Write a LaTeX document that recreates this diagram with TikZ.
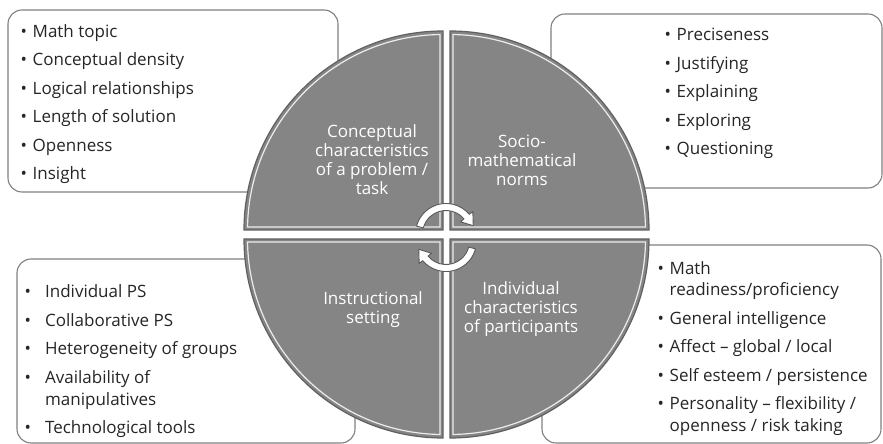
\documentclass[tikz,border=0pt]{standalone}
\usepackage{fontspec}
\setmainfont{Open Sans}
\newcommand{\bul}[1][12pt]{\makebox[#1][l]{\textbullet}}
\newcommand{\ind}[1][12pt]{\hspace*{#1}}

\begin{document}
\begin{tikzpicture}[x=1pt,y=1pt,
	listbox/.style={draw=black!50,line width=1.1pt,fill=white,rounded corners=14pt},
	quad/.style={fill=black!48,draw=black!62,line width=1.2pt},
	shine/.style={draw=white,line width=1.2pt,opacity=.85},
	itemlist/.style={anchor=base west,align=left,inner sep=0pt,text=black!85,font=\fontsize{17}{22}\selectfont},
	quadtext/.style={align=center,text=white,inner sep=0pt,font=\fontsize{17}{19}\selectfont},
	turn/.style={fill=white,draw=black!65,line width=.9pt,line join=round}]

\useasboundingbox[fill=white] (0,0) rectangle (883,444);

% boxes behind the disc
\draw[listbox] (8,252) rectangle (338,434);
\draw[listbox] (551,256) rectangle (882,430);
\draw[listbox] (17,1) rectangle (355,185);
\draw[listbox] (542,1) rectangle (881,199);

% the four quarters of the disc
\foreach \cx/\cy/\rot in {443/214/0,450/214/-90,450/205/180,443/205/90}{
	\begin{scope}[shift={(\cx,\cy)},rotate=\rot]
		\path[quad] (0,0) -- (180:199pt) arc[start angle=180,end angle=90,radius=199pt] -- cycle;
		\path[shine] (-3,3) -- (179.12:195.5pt) arc[start angle=179.12,end angle=90.88,radius=195.5pt] -- cycle;
	\end{scope}
}

% turning arrows in the middle
\foreach \cy/\rot in {210/0,203/180}{
	\begin{scope}[shift={(446,\cy)},rotate=\rot]
		\filldraw[turn] (165:30.5pt) arc[start angle=165,end angle=40,radius=30.5pt]
			-- (40:35pt) -- (17:28.5pt) -- (40:19pt) -- (40:23.5pt)
			arc[start angle=40,end angle=165,radius=23.5pt] -- cycle;
	\end{scope}
}

\node[quadtext] (task) at (372,284) {Conceptual\\characteristics\\of a problem /\\task};
\node[quadtext] (norms) at (522,283.5) {Socio-\\mathematical\\norms};
\node[quadtext] (setting) at (373,134.5) {Instructional\\setting};
\node[quadtext] (participants) at (521,135) {Individual\\characteristics\\of participants};

% lists, placed by the baseline of their last line
\node[itemlist] (tasklist) at (20.5,264) {\bul Math topic\\[6.5pt]
	\bul Conceptual density\\[6.5pt]
	\bul Logical relationships\\[6.5pt]
	\bul Length of solution\\[6.5pt]
	\bul Openness\\[6.5pt]
	\bul Insight};
\node[itemlist] (normlist) at (664.5,289) {\bul Preciseness\\[6.5pt]
	\bul Justifying\\[6.5pt]
	\bul Explaining\\[6.5pt]
	\bul Exploring\\[6.5pt]
	\bul Questioning};
\node[itemlist] (settinglist) at (24.5,10) {\bul[16pt] Individual PS\\[6.5pt]
	\bul[16pt] Collaborative PS\\[6.5pt]
	\bul[16pt] Heterogeneity of groups\\[6.5pt]
	\bul[16pt] Availability of\\
	\ind[16pt] manipulatives\\[6.5pt]
	\bul[16pt] Technological tools};
\node[itemlist] (participantlist) at (657.5,12) {\bul Math\\
	\ind readiness/proficiency\\[6.5pt]
	\bul General intelligence\\[6.5pt]
	\bul Affect -- global / local\\[6.5pt]
	\bul Self esteem / persistence\\[6.5pt]
	\bul Personality -- flexibility /\\
	\ind openness / risk taking};
\end{tikzpicture}
\end{document}
